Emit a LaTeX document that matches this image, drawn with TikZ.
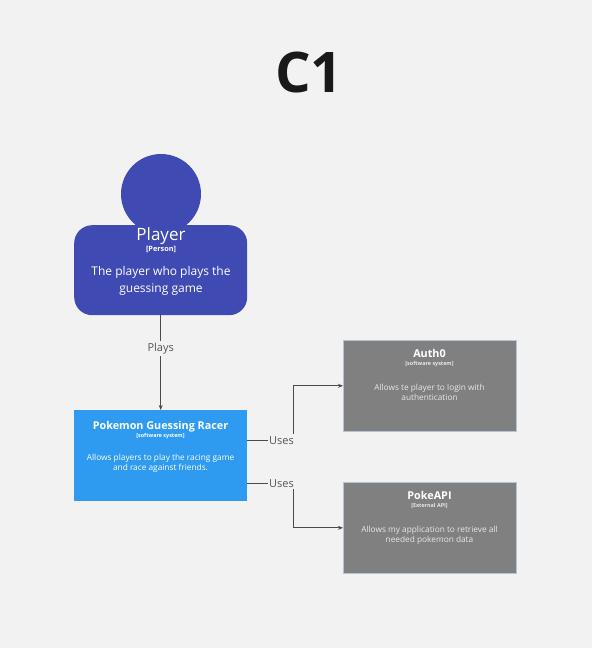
\documentclass[tikz,border=0pt]{standalone}
\usepackage{fontspec}
\setmainfont{Open Sans}
\usetikzlibrary{arrows.meta}
\definecolor{bg}{HTML}{F2F2F2}
\definecolor{personc}{HTML}{3F4BB3}
\definecolor{sysblue}{HTML}{2E9BF0}
\definecolor{extgray}{HTML}{808080}
\definecolor{extedge}{HTML}{B4C4D4}
\definecolor{edgec}{HTML}{4A4A4A}
\definecolor{lblc}{HTML}{555555}
\definecolor{pale}{HTML}{E8E8E8}
\begin{document}
\begin{tikzpicture}[x=1pt,y=-1pt,
  boxc/.style={rectangle, minimum width=173pt, minimum height=91pt, inner sep=0pt, anchor=north west},
  conn/.style={draw=edgec, line width=0.9pt, -{Stealth[length=5pt,width=4pt]}},
  lbl/.style={fill=bg, text=lblc, font=\fontsize{11}{13}\selectfont, inner xsep=1.5pt, inner ysep=2pt},
  ttl/.style={anchor=base, font=\fontsize{10.8}{12}\selectfont\bfseries},
  sub/.style={anchor=base, font=\fontsize{5.4}{6}\selectfont\bfseries},
  dsc/.style={anchor=base, font=\fontsize{8.3}{10}\selectfont}
]
\fill[bg] (0,0) rectangle (592,648);
\useasboundingbox (0,0) rectangle (592,648);

\node[font=\fontsize{56}{60}\selectfont\bfseries, text=black!90] (title) at (309,72) {C1};

% Person
\node[circle, fill=personc, minimum size=80pt, inner sep=0pt] (head) at (161,194) {};
\node[boxc, rounded corners=18pt, fill=personc, minimum height=90pt] (player) at (74,225) {};
\node[anchor=base, text=white, font=\fontsize{17}{20}\selectfont] (pname) at (161,240) {Player};
\node[anchor=base, text=white, font=\fontsize{7.3}{8}\selectfont\bfseries] (ptype) at (161,251) {[Person]};
\node[anchor=base, text=white, font=\fontsize{12}{14}\selectfont] (pd1) at (161,275) {The player who plays the};
\node[anchor=base, text=white, font=\fontsize{12}{14}\selectfont] (pd2) at (161,292) {guessing game};

% Pokemon Guessing Racer
\node[boxc, fill=sysblue] (pgr) at (74,410) {};
\node[ttl, text=white] (pgrt) at (160.5,429) {Pokemon Guessing Racer};
\node[sub, text=white] (pgrs) at (160.5,437.5) {[software system]};
\node[dsc, text=white] (pgrd1) at (160.5,460.7) {Allows players to play the racing game};
\node[dsc, text=white] (pgrd2) at (160.5,470.7) {and race against friends.};

% Auth0
\node[boxc, fill=extgray, draw=extedge, line width=0.6pt] (auth) at (343,340) {};
\node[ttl, text=white] (autht) at (429.5,357.7) {Auth0};
\node[sub, text=pale] (auths) at (429.5,365.7) {[software system]};
\node[dsc, text=pale] (authd1) at (429.5,390) {Allows te player to login with};
\node[dsc, text=pale] (authd2) at (429.5,400) {authentication};

% PokeAPI
\node[boxc, fill=extgray, draw=extedge, line width=0.6pt] (poke) at (343,482) {};
\node[ttl, text=white] (poket) at (429.5,499.7) {PokeAPI};
\node[sub, text=pale] (pokes) at (429.5,507.3) {[External API]};
\node[dsc, text=pale] (poked1) at (429.5,532) {Allows my application to retrieve all};
\node[dsc, text=pale] (poked2) at (429.5,542) {needed pokemon data};

% Connectors
\draw[conn] (player.south) -- node[lbl, pos=0.35] {Plays} (pgr.north);
\draw[conn] ([yshift=15.5pt]pgr.east) -- node[lbl, pos=0.74] {Uses} ++(46,0) |- (auth.west);
\draw[conn] ([yshift=-27.5pt]pgr.east) -- node[lbl, pos=0.74] {Uses} ++(46,0) |- (poke.west);
\end{tikzpicture}
\end{document}
